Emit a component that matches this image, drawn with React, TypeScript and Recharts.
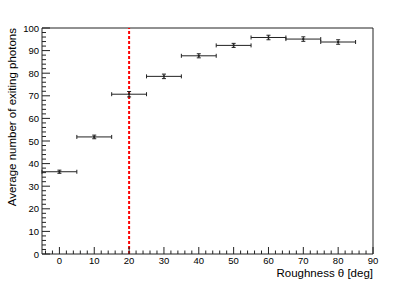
import React from "react";
import { ScatterChart, Scatter, XAxis, YAxis, ErrorBar, ReferenceLine, Label } from "recharts";

// roughness bins (deg) and the mean number of exiting photons per bin
const roughness = [0, 10, 20, 30, 40, 50, 60, 70, 80];
const photons = [36.4, 51.8, 70.7, 78.6, 87.7, 92.3, 95.8, 95.1, 93.8];
const photonErr = [0.7, 0.8, 1.2, 1.0, 0.9, 0.9, 1.0, 1.0, 1.0];
const binHalfWidth = [5, 5, 5, 5, 5, 5, 5, 5, 5];

const xMajor = [0, 10, 20, 30, 40, 50, 60, 70, 80, 90];
const yMajor = [0, 10, 20, 30, 40, 50, 60, 70, 80, 90, 100];
const minorStep = 2;
const cutAngle = 20;

const FONT = "'Liberation Sans', Arial, Helvetica, sans-serif";
const INK = "#222";

const data = roughness.map((x, i) => ({ x, y: photons[i], ex: binHalfWidth[i], ey: photonErr[i] }));

function withMinors(major: number[], lo: number, hi: number) {
  const out: number[] = [];
  for (let v = Math.ceil(lo / minorStep) * minorStep; v <= hi; v += minorStep) out.push(v);
  return out.filter((v) => v >= lo && v <= hi).concat(major.filter((m) => m % minorStep !== 0));
}

const xTicks = withMinors(xMajor, -5, 90);
const yTicks = withMinors(yMajor, 0, 100);

const XTick = (props: any) => {
  const { x, y, payload } = props;
  const v = payload.value;
  const major = xMajor.includes(v);
  const axisY = y - 2;
  return (
    <g>
      <line x1={x} x2={x} y1={axisY} y2={axisY - (major ? 7 : 3.5)} stroke={INK} />
      {major && (
        <text x={x} y={axisY + 10} textAnchor="middle" fontSize={9.5} fontFamily={FONT} fill="#000">
          {v}
        </text>
      )}
    </g>
  );
};

const YTick = (props: any) => {
  const { x, y, payload } = props;
  const v = payload.value;
  const major = yMajor.includes(v);
  const axisX = x + 3;
  return (
    <g>
      <line x1={axisX} x2={axisX + (major ? 8 : 4)} y1={y} y2={y} stroke={INK} />
      {major && (
        <text x={x} y={y + 3.5} textAnchor="end" fontSize={9.5} fontFamily={FONT} fill="#000">
          {v}
        </text>
      )}
    </g>
  );
};

export default function App() {
  return (
    <div style={{ position: "absolute", left: 0, top: 0, width: 415, height: 283, background: "#fff" }}>
      <ScatterChart width={415} height={283} margin={{ top: 28, right: 42, bottom: 0, left: 0 }}>
        <XAxis
          type="number"
          dataKey="x"
          domain={[-5, 90]}
          ticks={xTicks}
          interval={0}
          tickSize={0}
          tickMargin={2}
          tick={(p: any) => <XTick {...p} />}
          axisLine={{ stroke: INK }}
          height={29}
          allowDataOverflow
        >
          <Label
            content={({ viewBox }: any) => (
              <text
                x={viewBox.x + viewBox.width}
                y={viewBox.y + 23}
                textAnchor="end"
                fontSize={11.5}
                fontFamily={FONT}
                fill="#000"
              >
                Roughness θ [deg]
              </text>
            )}
          />
        </XAxis>
        <YAxis
          type="number"
          dataKey="y"
          domain={[0, 100]}
          ticks={yTicks}
          interval={0}
          tickSize={0}
          tickMargin={3}
          tick={(p: any) => <YTick {...p} />}
          axisLine={{ stroke: INK }}
          width={42}
          allowDataOverflow
        >
          <Label
            content={({ viewBox }: any) => (
              <text
                x={viewBox.x + 15.5}
                y={viewBox.y}
                transform={`rotate(-90 ${viewBox.x + 15.5} ${viewBox.y})`}
                textAnchor="end"
                fontSize={11.5}
                fontFamily={FONT}
                fill="#000"
              >
                Average number of exiting photons
              </text>
            )}
          />
        </YAxis>
        <ReferenceLine x={90} stroke={INK} />
        <ReferenceLine y={100} stroke={INK} />
        <ReferenceLine x={cutAngle} stroke="#f00" strokeWidth={2} strokeDasharray="3 2" />
        <Scatter
          data={data}
          isAnimationActive={false}
          shape={(p: any) => <rect x={p.cx - 1} y={p.cy - 1} width={2} height={2} fill={INK} />}
        >
          <ErrorBar dataKey="ex" direction="x" width={2} stroke={INK} strokeWidth={1} />
          <ErrorBar dataKey="ey" direction="y" width={2} stroke={INK} strokeWidth={1} />
        </Scatter>
      </ScatterChart>
    </div>
  );
}
